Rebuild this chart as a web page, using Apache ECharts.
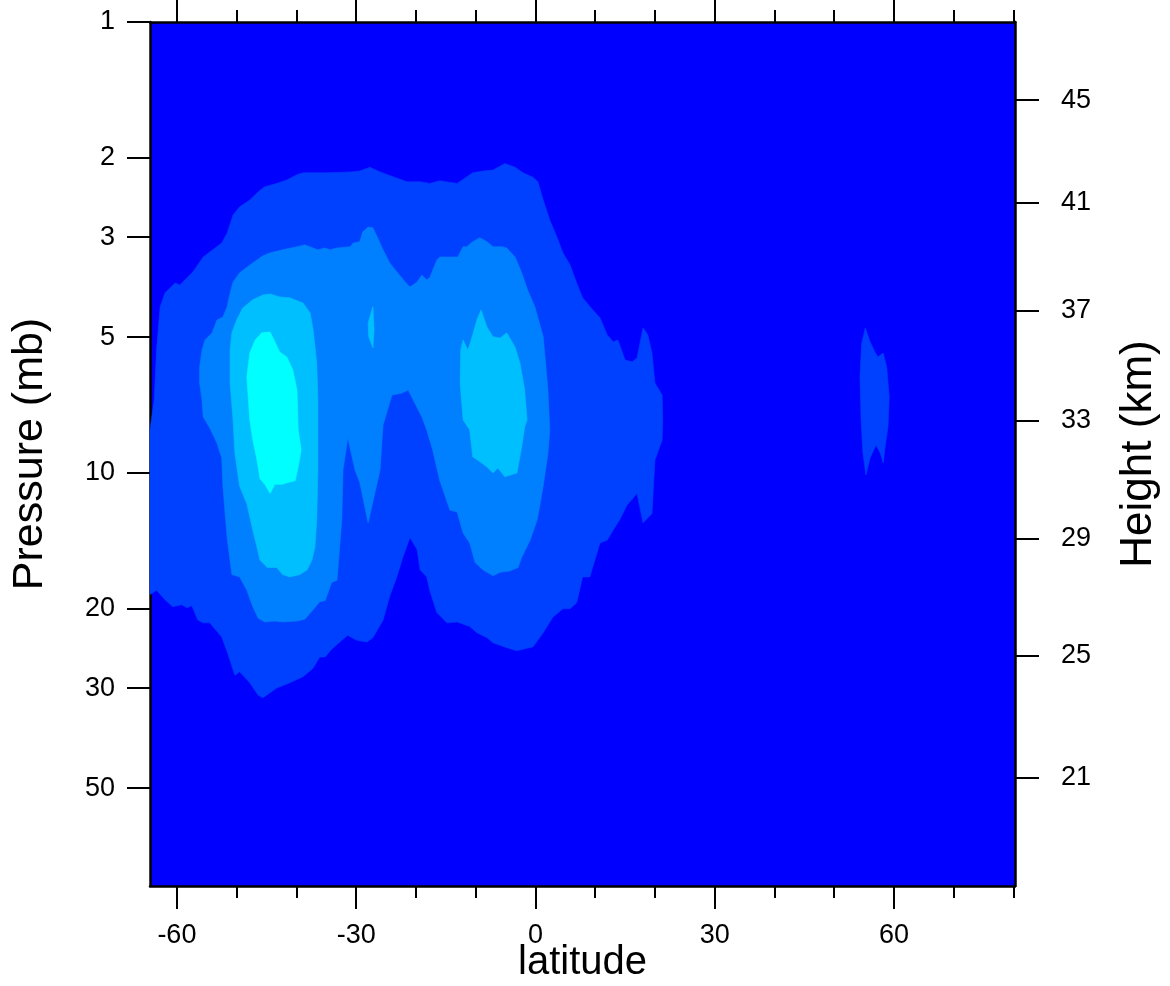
<!DOCTYPE html>
<html><head><meta charset="utf-8">
<script src="https://cdn.jsdelivr.net/npm/echarts@6/dist/echarts.min.js"></script>
<style>html,body{margin:0;padding:0;background:#fff}#c{width:1170px;height:986px}</style>
</head><body><div id="c"></div>
<script>
// ---- axis ranges & ticks ----
const latMin = -64.5, latMax = 80.25;
const pTop = 1, pBottom = 82.4;
const pressureTicks = [1, 2, 3, 5, 10, 20, 30, 50];
const latMajorTicks = [-60, -30, 0, 30, 60];
const latMinorTicks = [-50, -40, -20, -10, 10, 20, 40, 50, 70, 80];
const heightLabels = [45, 41, 37, 33, 29, 25, 21];
const heightPressures = [1.49, 2.52, 4.37, 7.66, 13.96, 25.4, 47.4];

// ---- contour fill levels (lowest level is the plot background) ----
const levelColors = ['#0000FF', '#0040FF', '#0080FF', '#00BFFF', '#00FFFF'];

// contour outlines as [latitude, pressure (mb)]
const level1Main = [
[-64.5,18.6],[-63.4,18.2],[-62.0,19.1],[-60.7,19.8],[-59.2,19.6],[-58.3,19.9],[-57.5,19.7],[-56.5,21.2],
[-55.6,21.5],[-54.5,21.5],[-52.5,23.1],[-51.5,25.1],[-50.3,28.1],[-49.5,27.6],[-47.8,29.2],[-46.4,31.1],
[-45.6,31.5],[-43.3,30.0],[-41.1,29.2],[-38.9,28.3],[-37.2,27.1],[-36.1,25.6],[-35.2,25.6],[-34.1,24.6],
[-32.4,23.5],[-31.4,22.9],[-29.9,23.5],[-28.2,23.7],[-27.2,23.2],[-25.5,21.2],[-24.4,18.8],[-23.2,17.0],
[-22.2,15.4],[-21.0,13.9],[-19.8,14.8],[-19.3,16.4],[-18.2,17.0],[-17.7,18.2],[-16.5,20.4],[-14.8,21.5],
[-13.1,21.4],[-11.0,21.9],[-9.8,22.6],[-8.1,23.2],[-7.1,23.8],[-4.8,24.4],[-3.1,24.8],[-2.1,24.6],
[-0.4,24.3],[1.3,22.6],[2.9,20.9],[4.6,20.0],[5.8,20.0],[6.9,19.4],[7.9,17.0],[9.1,17.0],
[10.8,14.3],[12.0,14.1],[13.0,13.4],[14.1,12.7],[15.3,11.8],[17.0,11.1],[18.0,12.9],[19.5,12.3],
[20.0,9.36],[21.2,8.45],[21.3,7.63],[21.2,6.72],[20.0,6.32],[19.5,5.42],[18.8,4.94],[18.0,4.77],
[17.0,5.56],[16.2,5.67],[15.0,5.62],[13.8,5.07],[13.0,5.12],[12.0,4.94],[10.8,4.53],[9.6,4.35],
[7.9,4.09],[6.9,3.79],[5.8,3.46],[4.6,3.25],[3.6,3.00],[2.4,2.75],[1.3,2.48],[0.4,2.26],
[-0.4,2.21],[-2.1,2.16],[-3.4,2.10],[-5.1,2.06],[-7.1,2.13],[-8.8,2.14],[-10.5,2.16],[-13.1,2.28],
[-16.0,2.25],[-17.7,2.28],[-19.3,2.26],[-21.5,2.26],[-24.4,2.19],[-26.0,2.15],[-27.7,2.10],[-29.4,2.14],
[-31.0,2.15],[-34.9,2.16],[-38.9,2.16],[-39.9,2.18],[-41.6,2.24],[-43.3,2.28],[-45.3,2.32],[-46.1,2.36],
[-47.8,2.48],[-49.5,2.57],[-50.6,2.68],[-51.6,2.94],[-52.5,3.09],[-54.0,3.20],[-55.6,3.32],[-57.3,3.58],
[-58.3,3.69],[-59.5,3.83],[-60.3,3.79],[-62.0,3.99],[-62.8,4.28],[-63.4,5.34],[-63.8,6.89],[-64.4,7.83],
[-64.5,8.03]
];
const level1East = [
[54.6,5.15],[55.2,4.77],[56.0,5.12],[56.8,5.39],[57.3,5.53],[58.2,5.42],[58.8,5.85],[59.2,6.79],
[59.0,7.91],[58.5,8.76],[58.2,9.50],[57.7,9.03],[57.0,8.67],[56.0,9.26],[55.3,10.1],[54.8,9.03],
[54.5,7.63],[54.3,6.13]
];
const level2 = [
[-50.8,16.8],[-51.6,13.9],[-52.3,10.7],[-52.5,9.26],[-53.3,8.58],[-54.5,7.95],[-55.6,7.51],[-55.8,6.89],
[-56.2,6.32],[-56.2,5.82],[-55.8,5.34],[-55.3,5.07],[-54.1,4.89],[-53.3,4.58],[-52.3,4.51],[-51.6,4.28],
[-51.1,3.99],[-50.6,3.77],[-49.5,3.60],[-47.8,3.46],[-45.6,3.30],[-44.4,3.25],[-42.3,3.20],[-39.9,3.15],
[-38.6,3.12],[-37.2,3.17],[-36.4,3.20],[-35.2,3.17],[-34.4,3.20],[-33.2,3.17],[-31.0,3.15],[-30.5,3.09],
[-29.4,3.07],[-28.9,2.92],[-28.0,2.85],[-27.2,2.86],[-26.4,3.01],[-25.5,3.20],[-24.4,3.42],[-23.2,3.58],
[-21.8,3.77],[-21.0,3.87],[-19.8,3.77],[-19.0,3.64],[-18.2,3.73],[-17.7,3.69],[-16.5,3.37],[-16.0,3.32],
[-13.0,3.32],[-12.1,3.15],[-11.5,3.15],[-10.5,3.07],[-9.3,3.01],[-8.1,3.07],[-7.1,3.15],[-5.6,3.15],
[-4.8,3.17],[-3.4,3.32],[-2.3,3.60],[-1.3,3.93],[-0.1,4.28],[1.3,4.99],[2.1,6.55],[2.4,8.03],
[2.1,9.03],[1.3,10.7],[0.3,12.7],[-0.9,14.1],[-2.3,15.4],[-2.9,16.2],[-4.3,16.5],[-5.9,16.6],
[-7.1,16.9],[-8.8,16.4],[-10.1,15.8],[-11.0,14.3],[-12.1,13.6],[-13.1,12.2],[-14.3,12.1],[-16.0,10.4],
[-17.2,8.89],[-18.2,8.03],[-19.0,7.51],[-20.2,7.00],[-21.3,6.55],[-22.3,6.65],[-24.0,6.72],[-25.5,7.83],
[-26.0,9.85],[-28.0,12.9],[-29.4,10.5],[-30.2,9.85],[-31.4,8.36],[-32.2,9.85],[-32.4,12.7],[-33.2,17.3],
[-34.1,17.5],[-35.2,19.2],[-36.1,19.3],[-37.2,20.1],[-38.6,21.1],[-39.9,21.3],[-42.3,21.4],[-43.6,21.3],
[-45.3,21.4],[-46.4,21.0],[-47.3,19.8],[-48.3,18.2],[-49.5,17.0]
];
const level3West = [
[-46.1,15.6],[-46.6,14.6],[-47.3,13.4],[-48.3,11.7],[-49.5,10.7],[-50.3,9.03],[-50.6,7.63],[-51.1,6.32],
[-51.1,5.34],[-50.8,4.89],[-50.0,4.58],[-49.0,4.31],[-47.3,4.13],[-45.6,4.03],[-44.4,4.01],[-42.8,4.07],
[-41.1,4.09],[-38.9,4.20],[-37.7,4.42],[-37.2,4.82],[-36.6,5.70],[-36.4,6.89],[-36.4,9.85],[-36.6,12.7],
[-36.9,14.6],[-37.4,15.6],[-38.2,16.4],[-39.4,16.8],[-41.1,17.0],[-42.3,16.8],[-43.3,16.2],[-44.9,16.2]
];
const level3Sliver = [
[-27.2,4.28],[-27.0,4.82],[-27.2,5.28],[-27.9,4.99],[-28.0,4.65]
];
const level3Center = [
[-9.1,4.35],[-8.1,4.75],[-7.1,4.99],[-5.9,5.02],[-4.8,4.89],[-3.4,5.26],[-2.6,5.70],[-1.8,6.55],
[-1.4,7.63],[-1.8,7.91],[-2.3,8.76],[-3.1,10.0],[-5.1,10.2],[-6.3,9.75],[-7.1,10.0],[-8.1,9.70],
[-9.0,9.50],[-10.5,9.21],[-11.0,8.03],[-12.1,7.63],[-12.6,6.32],[-12.5,5.34],[-12.1,5.07],[-11.3,5.34],
[-10.6,4.99],[-9.8,4.58]
];
const level4 = [
[-45.8,4.89],[-44.4,4.87],[-43.6,5.12],[-42.8,5.39],[-41.6,5.53],[-40.6,5.91],[-39.9,6.55],[-39.7,8.03],
[-39.2,8.89],[-39.7,9.70],[-40.2,10.4],[-41.4,10.5],[-42.4,10.6],[-43.6,10.6],[-44.4,11.1],[-45.3,10.6],
[-46.1,10.3],[-46.6,9.36],[-47.3,8.45],[-47.8,7.63],[-48.3,6.13],[-47.8,5.42],[-46.9,5.07]
];

// ---- chart ----
const FONT = '"Liberation Sans", Arial, Helvetica, sans-serif';
const log = v => Math.log10(v);

function contourSeries(polys, color, z) {
  return {
    type: 'custom',
    coordinateSystem: 'cartesian2d',
    xAxisIndex: 0, yAxisIndex: 0,
    silent: true, z: z, animation: false,
    data: polys.map((poly, i) => [poly[0][0], log(poly[0][1]), i]),
    renderItem: function (params, api) {
      const poly = polys[params.dataIndex];
      const pts = poly.map(([lat, p]) => api.coord([lat, log(p)]));
      return { type: 'polygon', shape: { points: pts },
               style: { fill: color, stroke: color, lineWidth: 0.6 } };
    }
  };
}

const axisLineStyle = { color: '#000', width: 2.5 };
const tickStyle = { color: '#000', width: 2 };
const TICK_FONT = 27;

const chart = echarts.init(document.getElementById('c'), null, { renderer: 'canvas' });
chart.setOption({
  animation: false,
  backgroundColor: '#fff',
  textStyle: { fontFamily: FONT },
  grid: { left: 150, top: 22, right: 155, bottom: 100, show: true,
          backgroundColor: levelColors[0], borderWidth: 0, containLabel: false,
          outerBoundsMode: 'none' },
  xAxis: [
    { type: 'value', position: 'bottom', min: latMin, max: latMax,
      axisLine: { show: true, onZero: false, lineStyle: axisLineStyle },
      axisTick: { show: true, inside: false, length: 23, customValues: latMajorTicks, lineStyle: tickStyle },
      axisLabel: { show: true, customValues: latMajorTicks, margin: 36, fontSize: TICK_FONT, color: '#000', fontFamily: FONT },
      splitLine: { show: false },
      name: 'latitude', nameLocation: 'middle', nameGap: 57, nameMoveOverlap: false,
      nameTextStyle: { fontSize: 40, color: '#000', fontFamily: FONT } },
    { type: 'value', position: 'bottom', min: latMin, max: latMax,
      axisLine: { show: false, onZero: false },
      axisTick: { show: true, inside: false, length: 12, customValues: latMinorTicks, lineStyle: tickStyle },
      axisLabel: { show: false }, splitLine: { show: false } },
    { type: 'value', position: 'top', min: latMin, max: latMax,
      axisLine: { show: true, onZero: false, lineStyle: axisLineStyle },
      axisTick: { show: true, inside: false, length: 23, customValues: latMajorTicks, lineStyle: tickStyle },
      axisLabel: { show: false }, splitLine: { show: false } },
    { type: 'value', position: 'top', min: latMin, max: latMax,
      axisLine: { show: false, onZero: false },
      axisTick: { show: true, inside: false, length: 12, customValues: latMinorTicks, lineStyle: tickStyle },
      axisLabel: { show: false }, splitLine: { show: false } }
  ],
  yAxis: [
    { type: 'value', position: 'left', min: log(pTop), max: log(pBottom), inverse: true,
      axisLine: { show: true, onZero: false, lineStyle: axisLineStyle },
      axisTick: { show: true, inside: false, length: 23, customValues: pressureTicks.map(log), lineStyle: tickStyle },
      axisLabel: { show: true, customValues: pressureTicks.map(log), margin: 35, fontSize: TICK_FONT, color: '#000', fontFamily: FONT,
                   formatter: v => String(Math.round(Math.pow(10, v))) },
      splitLine: { show: false },
      name: 'Pressure (mb)', nameLocation: 'middle', nameGap: 98, nameRotate: 90, nameMoveOverlap: false,
      nameTextStyle: { fontSize: 43, color: '#000', fontFamily: FONT } },
    { type: 'value', position: 'right', min: log(pTop), max: log(pBottom), inverse: true,
      axisLine: { show: true, onZero: false, lineStyle: axisLineStyle },
      axisTick: { show: true, inside: false, length: 24, customValues: heightPressures.map(log), lineStyle: tickStyle },
      axisLabel: { show: true, customValues: heightPressures.map(log), margin: 46, fontSize: TICK_FONT, color: '#000', fontFamily: FONT,
                   formatter: v => { const i = heightPressures.findIndex(p => Math.abs(log(p) - v) < 1e-6); return i >= 0 ? String(heightLabels[i]) : ''; } },
      splitLine: { show: false },
      name: 'Height (km)', nameLocation: 'middle', nameGap: 102, nameRotate: 90, nameMoveOverlap: false,
      nameTextStyle: { fontSize: 44, color: '#000', fontFamily: FONT } }
  ],
  series: [
    contourSeries([level1Main, level1East], levelColors[1], 1),
    contourSeries([level2], levelColors[2], 2),
    contourSeries([level3West, level3Sliver, level3Center], levelColors[3], 3),
    contourSeries([level4], levelColors[4], 4)
  ]
});
</script>
</body></html>
